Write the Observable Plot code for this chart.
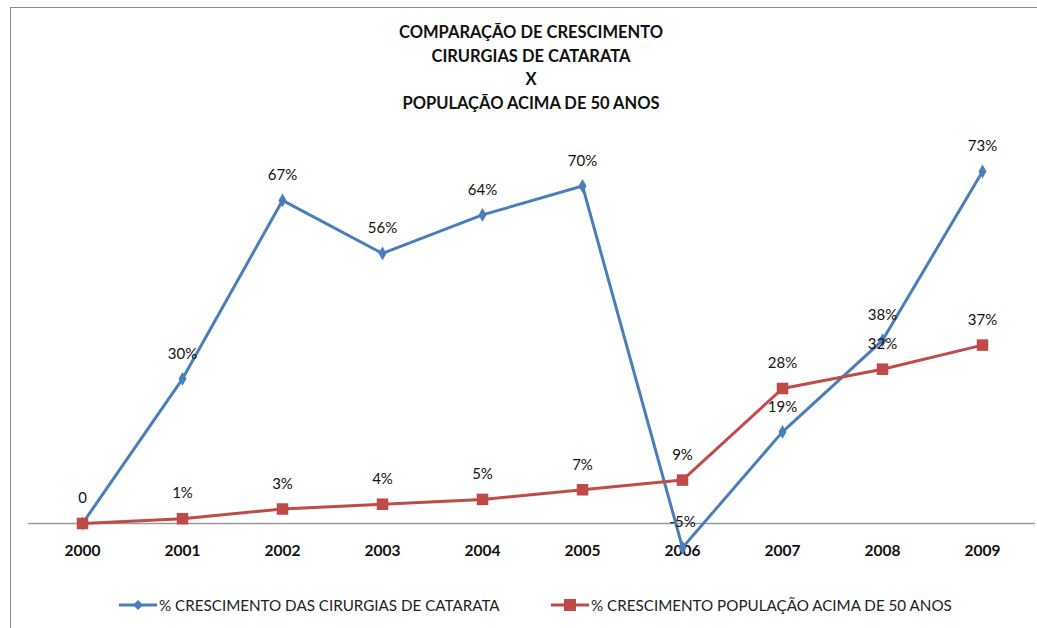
<!DOCTYPE html>
<html>
<head>
<meta charset="utf-8">
<script src="https://cdn.jsdelivr.net/npm/d3@7"></script>
<script src="https://cdn.jsdelivr.net/npm/@observablehq/plot@0.6"></script>
<style>
  html, body { margin: 0; padding: 0; background: #fff; width: 1037px; height: 628px; overflow: hidden; }
  #frame { position: absolute; left: 10px; top: 7px; width: 1100px; height: 700px; border-top: 1.5px solid #8c8c8c; border-left: 1.5px solid #8c8c8c; }
  #title { position: absolute; left: 0; top: 21px; width: 1062px; text-align: center; font-family: Lato, "Open Sans", sans-serif; font-weight: bold; font-size: 16.5px; line-height: 23.7px; color: #111; }
  #chart { position: absolute; left: 0; top: 130px; }
  .leg { position: absolute; top: 596px; font-family: Lato, "Open Sans", sans-serif; font-size: 15.2px; color: #222; display: flex; align-items: center; white-space: nowrap; }
  .leg svg { display: block; margin-right: 2px; }
</style>
</head>
<body>
<div id="frame"></div>
<div id="title">COMPARAÇÃO DE CRESCIMENTO<br>CIRURGIAS DE CATARATA<br>X<br>POPULAÇÃO ACIMA DE 50 ANOS</div>
<div id="chart"></div>
<div class="leg" style="left:119px"><svg width="38" height="18"><line x1="0" y1="9" x2="38" y2="9" stroke="#4a7ebb" stroke-width="3"/><path d="M19,4 L24,9 L19,14 L14,9 Z" fill="#4a7ebb"/></svg><span id="leg1"></span></div>
<div class="leg" style="left:551px"><svg width="38" height="18"><line x1="0" y1="9" x2="38" y2="9" stroke="#be4b48" stroke-width="3"/><rect x="13" y="3" width="12" height="12" fill="#be4b48"/></svg><span id="leg2"></span></div>
<script>
const years = ["2000","2001","2002","2003","2004","2005","2006","2007","2008","2009"];
const cirurgias = [0, 30, 67, 56, 64, 70, -5, 19, 38, 73];
const populacao = [0, 1, 3, 4, 5, 7, 9, 28, 32, 37];
const seriesNames = ["% CRESCIMENTO DAS CIRURGIAS DE CATARATA", "% CRESCIMENTO POPULAÇÃO ACIMA DE 50 ANOS"];
const colors = ["#4a7ebb", "#be4b48"];

document.getElementById("leg1").textContent = seriesNames[0];
document.getElementById("leg2").textContent = seriesNames[1];

const blue = years.map((y, i) => ({year: y, value: cirurgias[i], label: cirurgias[i] === 0 ? "0" : cirurgias[i] + "%"}));
const red = years.map((y, i) => ({year: y, value: populacao[i], label: populacao[i] === 0 ? "" : populacao[i] + "%"}));

const labelFont = {fontFamily: "Lato, 'Open Sans', sans-serif", fontSize: 15, fill: "#111"};

const plot = Plot.plot({
  width: 1037,
  height: 460,
  marginLeft: 28,
  marginRight: 2,
  marginTop: 7.25,
  marginBottom: 67,
  style: {fontFamily: "Lato, 'Open Sans', sans-serif", background: "transparent"},
  x: {type: "point", domain: years, padding: 0.5, label: null},
  y: {domain: [0, 80], axis: null},
  marks: [
    Plot.ruleY([0], {stroke: "#9a9a9a", strokeWidth: 1.5}),
    Plot.axisX({anchor: "bottom", tickSize: 0, tickPadding: 21, fontWeight: "bold", fontSize: 15.5, label: null, fill: "#111"}),
    Plot.line(blue, {x: "year", y: "value", stroke: colors[0], strokeWidth: 3}),
    Plot.line(red, {x: "year", y: "value", stroke: colors[1], strokeWidth: 3}),
    Plot.dot(blue, {x: "year", y: "value", symbol: "diamond", r: 4.2, fill: colors[0]}),
    Plot.dot(red, {x: "year", y: "value", symbol: "square", r: 6.5, fill: colors[1]}),
    Plot.text(blue, {x: "year", y: "value", text: "label", dy: -25, ...labelFont}),
    Plot.text(red, {x: "year", y: "value", text: "label", dy: -25, ...labelFont})
  ]
});
plot.style.overflow = "visible";
document.getElementById("chart").appendChild(plot);
</script>
</body>
</html>
